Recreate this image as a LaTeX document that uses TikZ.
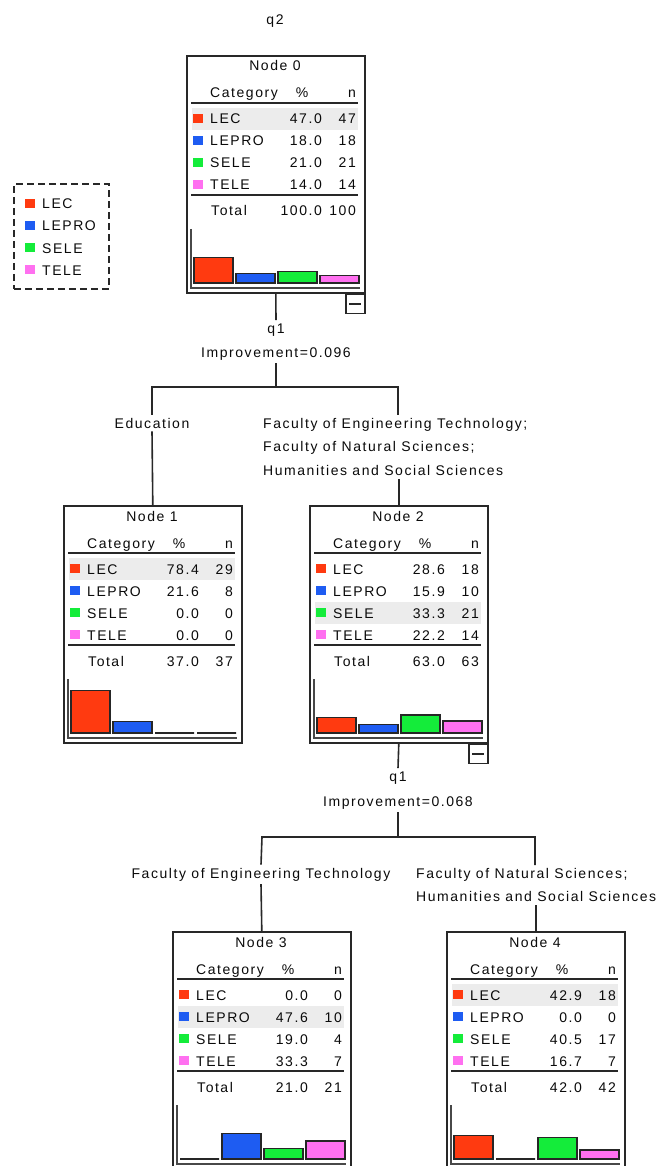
\documentclass[tikz,border=0pt]{standalone}
\usepackage{fontspec}
\newfontfamily\spss[LetterSpace=11]{Liberation Sans}
\definecolor{cLEC}{RGB}{255,58,16}
\definecolor{cLEPRO}{RGB}{30,92,242}
\definecolor{cSELE}{RGB}{20,236,58}
\definecolor{cTELE}{RGB}{255,112,240}
\definecolor{hlgray}{RGB}{236,236,236}
\definecolor{edge}{RGB}{40,40,40}
\definecolor{ink}{RGB}{10,10,10}
\tikzset{
  txt/.style={font=\spss\fontsize{14}{23.5}\selectfont, inner sep=0pt, text=ink},
  lbl/.style={txt, inner sep=3pt},
  panel/.style={draw=edge, line width=1.6pt, minimum width=178pt, minimum height=237pt, inner sep=0pt, anchor=north west, fill=white},
  rule/.style={draw=edge, line width=1.5pt},
  axisline/.style={draw=edge!85, line width=1.3pt},
  bar/.style={draw=black!85, line width=1.2pt},
  conn/.style={draw=edge, line width=1.6pt},
  collapse/.style={draw=edge, line width=1.5pt, minimum width=19pt, minimum height=19pt, inner sep=0pt, anchor=north east, fill=white},
}
\newcommand\treepanel[7]{%
  \node[panel] (#1) at (#2,#3) {};
  \begin{scope}[shift={(#2,#3)}]
    \fill[hlgray] (6,{31+22*#5}) rectangle (172,{53+22*#5});
    \node[txt, anchor=base] (#1-title) at (89,16) {#4};
    \node[txt, anchor=base west] (#1-hcat) at (24,43) {Category};
    \node[txt, anchor=base] (#1-hpct) at (116,43) {\%};
    \node[txt, anchor=base east] (#1-hn) at (170,43) {n};
    \draw[rule] (5,48) -- (172,48);
    \foreach \lab/\col/\p/\n [count=\i] in {#6} {
      \pgfmathsetmacro\ry{42+22*\i}
      \pgfmathsetmacro\bx{8+42*(\i-1)}
      \pgfmathsetmacro\bh{0.54*\p}
      \fill[\col] (7,\ry-5) rectangle (17,\ry+4);
      \node[txt, anchor=base west] (#1-l\i) at (24,\ry+5) {\lab};
      \node[txt, anchor=base east] (#1-p\i) at (136,\ry+5) {\p};
      \node[txt, anchor=base east] (#1-n\i) at (170,\ry+5) {\n};
      \filldraw[bar, fill=\col] (\bx,228) rectangle (\bx+39,228-\bh);
    }
    \draw[rule] (5,140) -- (172,140);
    \node[txt, anchor=base west] (#1-tot) at (25,161) {Total};
    \node[txt, anchor=base east] (#1-totp) at (136,161) {#7};
  \end{scope}}
\begin{document}
\begin{tikzpicture}[x=1pt,y=-1pt]
  \useasboundingbox (0,0) rectangle (658,1166);
  \clip (0,0) rectangle (658,1166);

  % legend
  \node[draw=edge, dash pattern=on 7pt off 4pt, line width=1.6pt, minimum width=95pt, minimum height=105pt, anchor=north west, inner sep=0pt] (legend) at (13,183) {};
  \foreach \lab/\col [count=\i] in {LEC/cLEC,LEPRO/cLEPRO,SELE/cSELE,TELE/cTELE} {
    \pgfmathsetmacro\ly{182+22*\i}
    \fill[\col] (25,\ly-5) rectangle (35,\ly+4);
    \node[txt, anchor=base west] (leg\i) at (42,\ly+5) {\lab};
  }

  % split labels
  \node[lbl, anchor=base] (q2) at (275,25) {q2};
  \node[lbl, anchor=base] (q1a) at (276,333) {q1};
  \node[lbl, anchor=base] (imp1) at (276,357) {Improvement=0.096};
  \node[lbl, anchor=base] (edu) at (152,428) {Education};
  \node[lbl, anchor=north west, align=left] (fac1) at (260,415) {Faculty of Engineering Technology;\\Faculty of Natural Sciences;\\Humanities and Social Sciences};
  \coordinate (jl1) at (152,387);
  \coordinate (jr1) at (398,387);
  \coordinate (jm1) at (276,387);

  \node[lbl, anchor=base] (q1b) at (398,781) {q1};
  \node[lbl, anchor=base] (imp2) at (398,806) {Improvement=0.068};
  \node[lbl, anchor=base] (eng2) at (261,878) {Faculty of Engineering Technology};
  \node[lbl, anchor=north west, align=left] (fac2) at (413,865) {Faculty of Natural Sciences;\\Humanities and Social Sciences};
  \coordinate (jl2) at (262,837);
  \coordinate (jr2) at (535,837);
  \coordinate (jm2) at (398,837);

  % panels
  \treepanel{n0}{186}{55}{Node 0}{1}{LEC/cLEC/47.0/47,LEPRO/cLEPRO/18.0/18,SELE/cSELE/21.0/21,TELE/cTELE/14.0/14}{100.0}
  \treepanel{n1}{63}{505}{Node 1}{1}{LEC/cLEC/78.4/29,LEPRO/cLEPRO/21.6/8,SELE/cSELE/0.0/0,TELE/cTELE/0.0/0}{37.0}
  \treepanel{n2}{309}{505}{Node 2}{3}{LEC/cLEC/28.6/18,LEPRO/cLEPRO/15.9/10,SELE/cSELE/33.3/21,TELE/cTELE/22.2/14}{63.0}
  \treepanel{n3}{172}{931}{Node 3}{2}{LEC/cLEC/0.0/0,LEPRO/cLEPRO/47.6/10,SELE/cSELE/19.0/4,TELE/cTELE/33.3/7}{21.0}
  \treepanel{n4}{446}{931}{Node 4}{1}{LEC/cLEC/42.9/18,LEPRO/cLEPRO/0.0/0,SELE/cSELE/40.5/17,TELE/cTELE/16.7/7}{42.0}
  \node[txt, anchor=base east] (n0-totn) at (356,216) {100};
  \node[txt, anchor=base east] (n1-totn) at (233,666) {37};
  \node[txt, anchor=base east] (n2-totn) at (479,666) {63};
  \node[txt, anchor=base east] (n3-totn) at (342,1092) {21};
  \node[txt, anchor=base east] (n4-totn) at (616,1092) {42};

  % axes of the charts
  \foreach \nd/\L/\T in {n0/186/55,n1/63/505,n2/309/505,n3/172/931,n4/446/931} {
    \draw[axisline] (\L+5,\T+174) -- (\L+5,\T+233) -- (\L+174,\T+233);
  }

  % collapse boxes
  \node[collapse] (n0-x) at (n0.south east) {};
  \draw[edge, line width=1.5pt] ([xshift=-6pt]n0-x.center) -- ([xshift=6pt]n0-x.center);
  \node[collapse] (n2-x) at (n2.south east) {};
  \draw[edge, line width=1.5pt] ([xshift=-6pt]n2-x.center) -- ([xshift=6pt]n2-x.center);

  % connectors
  \draw[conn] (n0.south) -- (q1a.north);
  \draw[conn] (imp1.south) -- (jm1);
  \draw[conn] (edu.north) -- (jl1) -- (jr1) -- (jr1 |- fac1.north);
  \draw[conn] (edu.south) -- (n1.north);
  \draw[conn] (n2.north) -- (n2.north |- fac1.south);

  \draw[conn] (n2.south) -- (q1b.north);
  \draw[conn] (imp2.south) -- (jm2);
  \draw[conn] (eng2.north) -- (jl2) -- (jr2) -- (jr2 |- fac2.north);
  \draw[conn] (eng2.south) -- (n3.north);
  \draw[conn] (n4.north) -- (n4.north |- fac2.south);
\end{tikzpicture}
\end{document}
